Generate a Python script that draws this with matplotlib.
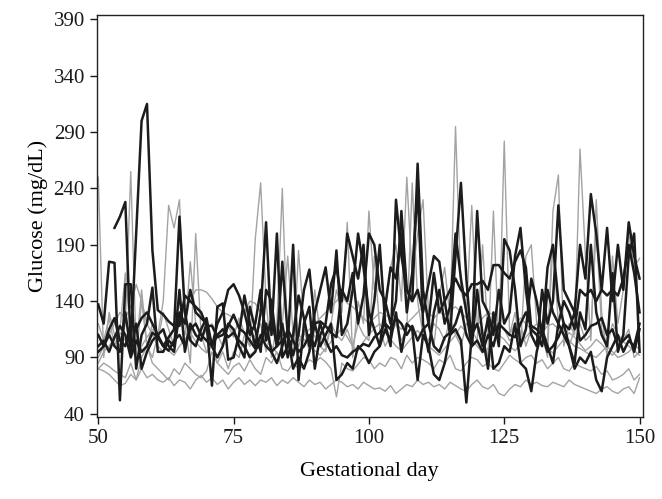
import numpy as np
import matplotlib
matplotlib.use("Agg")
import matplotlib.pyplot as plt

# gestational days 50..150, one reading per day
DAYS = list(range(50, 151))

# dark traces (rows of ten days: 50-59, 60-69, ..., 140-149, 150)
BLACK_1 = [
    137, 120, 175, 174, 52, 155, 155, 80, 110, 120,
    152, 95, 95, 105, 100, 150, 95, 120, 110, 105,
    120, 65, 135, 138, 88, 90, 110, 145, 120, 100,
    130, 210, 110, 200, 90, 100, 190, 70, 120, 135,
    80, 110, 120, 155, 170, 140, 200, 180, 160, 190,
    110, 140, 190, 120, 100, 230, 180, 150, 140, 262,
    150, 120, 165, 130, 140, 110, 180, 245, 160, 100,
    220, 140, 130, 110, 150, 120, 130, 180, 205, 150,
    110, 100, 150, 120, 140, 225, 150, 140, 130, 190,
    160, 235, 200, 150, 205, 140, 190, 150, 210, 180,
    160,
]
BLACK_2 = [
    None, None, None, 205, 215, 228, 100, 200, 300, 315,
    185, 132, 128, 122, 118, 118, 145, 140, 135, 130,
    118, 118, 108, 110, 118, 128, 116, 112, 105, 98,
    100, 120, 95, 100, 105, 110, 92, 110, 150, 168,
    120, 122, 118, 112, 108, 150, 140, 165, 120, 145,
    200, 190, 150, 140, 120, 140, 220, 150, 140, 150,
    130, 155, 180, 175, 140, 150, 160, 150, 145, 155,
    155, 158, 150, 172, 172, 165, 160, 175, 185, 170,
    115, 110, 100, 150, 130, 120, 140, 130, 115, 150,
    145, 150, 140, 150, 145, 150, 145, 160, 190, 165,
    130,
]
BLACK_3 = [
    95, 100, 110, 100, 95, 130, 95, 120, 80, 95,
    105, 110, 100, 108, 115, 215, 130, 105, 100, 115,
    125, 100, 120, 130, 150, 155, 145, 130, 110, 120,
    150, 105, 125, 100, 175, 110, 80, 90, 80, 95,
    120, 100, 110, 120, 70, 75, 85, 80, 100, 95,
    85, 95, 100, 115, 105, 130, 95, 120, 115, 70,
    110, 100, 75, 70, 85, 110, 115, 105, 50, 110,
    120, 100, 125, 80, 85, 100, 95, 120, 85, 80,
    60, 95, 115, 100, 85, 120, 110, 100, 80, 90,
    85, 95, 70, 60, 90, 100, 110, 95, 105, 100,
    120,
]
BLACK_4 = [
    110, 100, 115, 125, 105, 100, 120, 115, 125, 130,
    120, 110, 115, 100, 95, 130, 120, 150, 130, 125,
    120, 100, 90, 100, 120, 115, 100, 90, 135, 115,
    95, 150, 140, 100, 120, 90, 110, 145, 125, 100,
    130, 150, 170, 130, 185, 110, 120, 150, 200, 170,
    130, 115, 100, 135, 170, 160, 200, 130, 165, 240,
    120, 95, 130, 150, 120, 135, 200, 160, 130, 100,
    150, 110, 80, 130, 100, 195, 185, 150, 100, 115,
    160, 140, 110, 170, 190, 140, 120, 100, 85, 130,
    115, 190, 130, 110, 100, 165, 95, 110, 180, 200,
    95,
]
BLACK_5 = [
    100, 105, 95, 108, 118, 110, 90, 105, 95, 100,
    112, 108, 100, 96, 105, 110, 100, 115, 120, 110,
    105, 100, 110, 115, 108, 112, 105, 100, 90, 95,
    110, 100, 95, 85, 100, 115, 105, 95, 100, 110,
    100, 120, 105, 95, 100, 92, 90, 95, 98, 102,
    100, 108, 112, 120, 115, 125, 120, 110, 118, 105,
    115, 120, 100, 95, 108, 112, 120, 135, 110, 100,
    105, 95, 110, 100, 120, 115, 110, 108, 120, 130,
    118, 115, 110, 95, 100, 108, 120, 115, 130, 105,
    110, 118, 120, 125, 110, 115, 100, 105, 110, 95,
    115,
]

# light grey traces
GREY_1 = [
    80, 78, 75, 70, 65, 67, 75, 70, 80, 72,
    75, 70, 68, 72, 65, 70, 68, 62, 70, 74,
    68, 72, 66, 70, 62, 68, 72, 66, 70, 65,
    70, 68, 72, 65, 70, 67, 72, 68, 64, 70,
    66, 68, 62, 66, 70, 68, 64, 66, 62, 68,
    65, 62, 63, 60, 65, 58, 62, 66, 64, 70,
    66, 68, 64, 66, 62, 68, 65, 62, 60, 66,
    70, 64, 62, 66, 58, 56, 62, 66, 64, 70,
    66, 68, 65, 64, 68, 66, 64, 70, 66, 64,
    62, 60, 58, 62, 64, 60, 58, 62, 64, 58,
    72,
]
GREY_2 = [
    250, 90, 130, 110, 100, 120, 255, 95, 150, 100,
    90, 110, 140, 225, 205, 230, 120, 85, 200, 110,
    95, 100, 85, 95, 80, 95, 90, 110, 100, 195,
    245, 140, 90, 120, 240, 100, 90, 185, 120, 100,
    110, 100, 95, 120, 150, 130, 210, 90, 140, 120,
    220, 150, 180, 130, 170, 190, 140, 250, 160, 200,
    230, 130, 100, 145, 170, 125, 295, 150, 130, 225,
    120, 110, 90, 220, 100, 282, 110, 130, 100, 180,
    190, 120, 110, 90, 220, 252, 100, 120, 110, 275,
    180, 105, 230, 130, 90, 180, 120, 150, 200, 170,
    178,
]
GREY_3 = [
    90, 100, 110, 120, 130, 125, 135, 155, 140, 120,
    110, 100, 95, 105, 115, 125, 135, 140, 150, 150,
    148, 142, 135, 130, 128, 125, 120, 130, 140, 138,
    130, 120, 110, 115, 110, 108, 100, 105, 110, 115,
    120, 125, 130, 135, 140, 145, 138, 135, 130, 125,
    120, 125, 130, 128, 125, 120, 115, 120, 125, 130,
    135, 130, 125, 130, 128, 132, 135, 130, 125, 120,
    118, 125, 130, 128, 120, 115, 110, 120, 125, 120,
    115, 110, 112, 118, 120, 115, 110, 105, 100, 98,
    95, 92, 90, 95, 100, 95, 90, 92, 95, 100,
    98,
]
GREY_4 = [
    80, 85, 82, 78, 75, 72, 85, 70, 90, 100,
    85, 80, 75, 70, 80, 75, 85, 80, 75, 72,
    78, 95, 85, 80, 75, 82, 85, 78, 88, 80,
    75, 90, 85, 95, 80, 78, 85, 80, 82, 88,
    85, 90, 86, 80, 55, 85, 80, 78, 84, 90,
    88, 80, 85, 82, 90, 88, 80, 92, 85, 90,
    88, 85, 80, 88, 85, 92, 80, 78, 85, 90,
    88, 82, 85, 80, 78, 85, 92, 88, 85, 90,
    92, 85, 88, 80, 85, 90, 80, 78, 85, 82,
    80, 78, 82, 75, 78, 70, 72, 75, 80, 70,
    75,
]
GREY_5 = [
    120, 105, 125, 100, 115, 165, 110, 90, 140, 100,
    120, 105, 130, 115, 100, 125, 110, 175, 120, 105,
    115, 120, 110, 100, 118, 108, 125, 112, 100, 110,
    120, 95, 115, 105, 120, 180, 110, 100, 115, 95,
    150, 110, 100, 120, 110, 105, 115, 100, 120, 110,
    105, 180, 115, 100, 110, 120, 105, 115, 245, 140,
    110, 105, 120, 115, 105, 125, 110, 100, 120, 115,
    105, 190, 110, 100, 120, 115, 105, 110, 120, 100,
    115, 120, 110, 105, 190, 120, 110, 100, 115, 120,
    105, 110, 205, 115, 100, 120, 110, 105, 115, 90,
    95,
]
GREY_6 = [
    85, 95, 100, 108, 112, 105, 98, 90, 100, 108,
    115, 110, 102, 96, 92, 100, 106, 112, 104, 98,
    94, 100, 108, 115, 120, 112, 104, 98, 92, 96,
    102, 108, 100, 94, 90, 96, 104, 110, 106, 100,
    96, 92, 98, 104, 110, 116, 108, 100, 96, 104,
    110, 116, 120, 112, 106, 100, 96, 102, 108, 114,
    108, 100, 96, 92, 98, 104, 110, 118, 112, 106,
    100, 94, 98, 104, 110, 106, 100, 96, 102, 108,
    114, 110, 104, 98, 94, 100, 106, 112, 108, 102,
    96, 100, 106, 102, 96, 92, 98, 104, 100, 96,
    92,
]

BLACK_SERIES = [BLACK_1, BLACK_2, BLACK_3, BLACK_4, BLACK_5]
GREY_SERIES = [GREY_1, GREY_2, GREY_3, GREY_4, GREY_5, GREY_6]

plt.rcParams["font.family"] = ["Liberation Serif", "DejaVu Serif"]

fig = plt.figure(figsize=(6.62, 4.99), dpi=100)
ax = fig.add_axes([0.146, 0.164, 0.825, 0.806])

days = np.array(DAYS)
for values in GREY_SERIES:
    y = np.array([np.nan if v is None else v for v in values], dtype=float)
    ax.plot(days, y, color="#a3a3a3", linewidth=1.0, zorder=2)
for values in BLACK_SERIES:
    y = np.array([np.nan if v is None else v for v in values], dtype=float)
    ax.plot(days, y, color="#1c1c1c", linewidth=1.8, zorder=3)

ax.set_xlim(49.7, 150.6)
ax.set_ylim(37, 394)
ax.set_xticks([50, 75, 100, 125, 150])
ax.set_yticks(list(range(40, 391, 50)))
ax.tick_params(direction="out", length=5, width=1, labelsize=15, colors="#1a1a1a")
for spine in ax.spines.values():
    spine.set_linewidth(1.0)
    spine.set_color("#222222")

ax.set_xlabel("Gestational day", fontsize=16, labelpad=10)
ax.set_ylabel("Glucose (mg/dL)", fontsize=16, labelpad=4)

fig.savefig("out.png", dpi=100)
